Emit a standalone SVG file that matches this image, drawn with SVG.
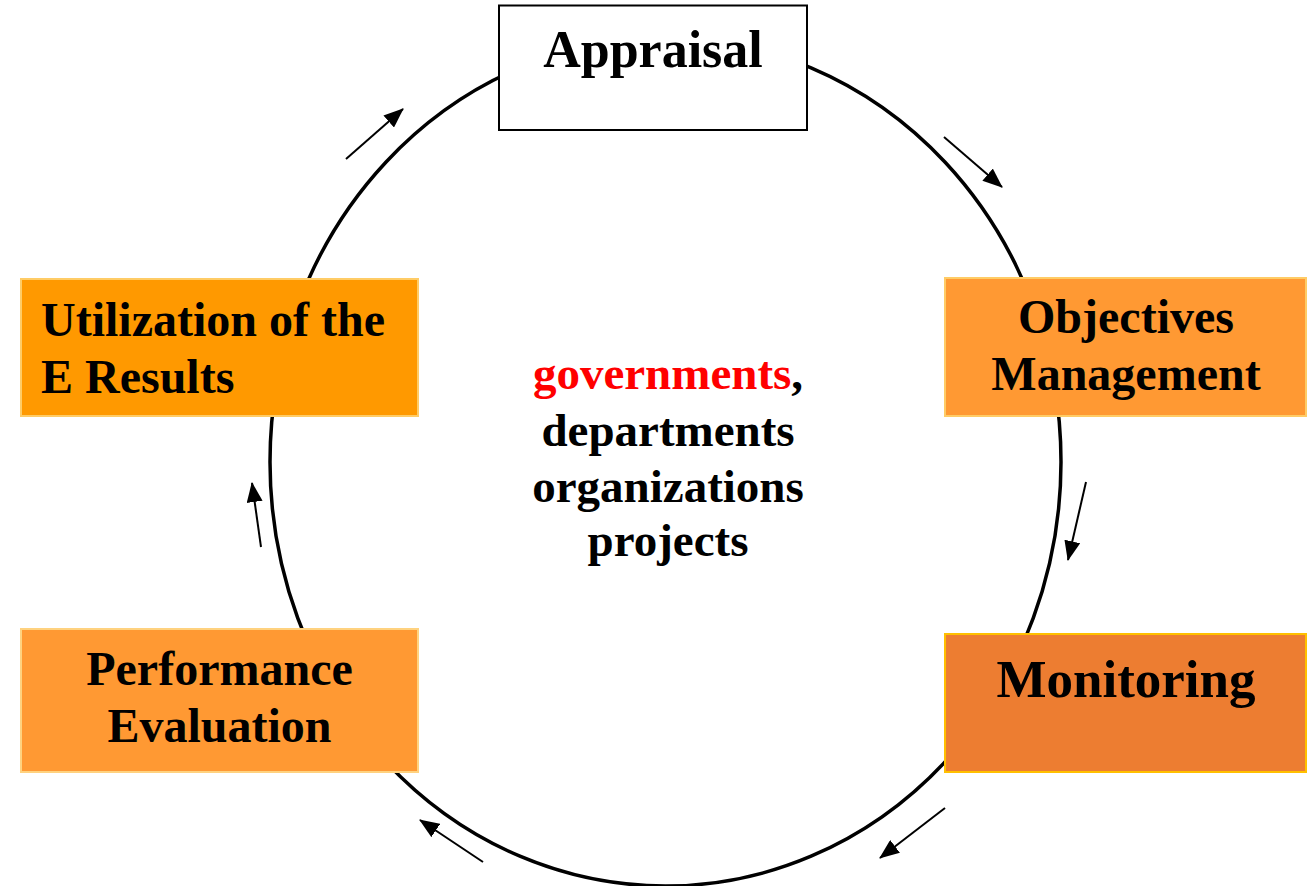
<svg xmlns="http://www.w3.org/2000/svg" width="1309" height="886" viewBox="0 0 1309 886">
  <style>
    .t { font-family: "Liberation Serif", "Times New Roman", serif; font-weight: bold; fill: #000; }
    .arrow { stroke: #000; stroke-width: 2; fill: none; marker-end: url(#head); }
    .box { stroke-width: 2; }
  </style>
  <defs>
    <marker id="head" markerUnits="userSpaceOnUse" markerWidth="20" markerHeight="16" viewBox="0 0 20 16" refX="19" refY="8" orient="auto">
      <path d="M0,0 L20,8 L0,16 Z" fill="#000"/>
    </marker>
  </defs>
  <rect width="1309" height="886" fill="#fff"/>
  <g id="connectors">
    <ellipse cx="665.5" cy="462" rx="395.5" ry="424" fill="none" stroke="#000" stroke-width="3.5"/>
    <line class="arrow" x1="346" y1="159" x2="403" y2="109"/>
    <line class="arrow" x1="944" y1="137" x2="1002" y2="187"/>
    <line class="arrow" x1="1086" y1="482" x2="1068" y2="560"/>
    <line class="arrow" x1="945" y1="808" x2="880" y2="858"/>
    <line class="arrow" x1="483" y1="862" x2="420" y2="820"/>
    <line class="arrow" x1="261" y1="547" x2="252" y2="483"/>
  </g>
  <g id="appraisal">
    <rect class="box" x="499" y="5.5" width="308" height="124.5" fill="#fff" stroke="#000"/>
    <text class="t" x="653" y="67" font-size="52" text-anchor="middle">Appraisal</text>
  </g>
  <g id="objectives">
    <rect class="box" x="945" y="278" width="361" height="138" fill="#FF9933" stroke="#FFCC66"/>
    <text class="t" x="1126" y="333" font-size="48" text-anchor="middle">Objectives</text>
    <text class="t" x="1126" y="390" font-size="48" text-anchor="middle">Management</text>
  </g>
  <g id="monitoring">
    <rect class="box" x="945" y="634" width="361" height="138" fill="#ED7D31" stroke="#FFC000"/>
    <text class="t" x="1126" y="697" font-size="53" text-anchor="middle">Monitoring</text>
  </g>
  <g id="utilization">
    <rect class="box" x="21" y="279" width="397" height="137" fill="#FF9900" stroke="#FFCC66"/>
    <text class="t" x="41" y="336" font-size="48">Utilization of the</text>
    <text class="t" x="41" y="393" font-size="48">E Results</text>
  </g>
  <g id="performance">
    <rect class="box" x="21" y="629" width="397" height="143" fill="#FF9933" stroke="#FFD27F"/>
    <text class="t" x="219.5" y="685" font-size="48" text-anchor="middle">Performance</text>
    <text class="t" x="219.5" y="742" font-size="48" text-anchor="middle">Evaluation</text>
  </g>
  <g id="center">
    <text class="t" x="668" y="389" font-size="47" text-anchor="middle"><tspan fill="#FF0000">governments</tspan>,</text>
    <text class="t" x="668" y="446" font-size="47" text-anchor="middle">departments</text>
    <text class="t" x="668" y="502" font-size="47" text-anchor="middle">organizations</text>
    <text class="t" x="668" y="556" font-size="47" text-anchor="middle">projects</text>
  </g>
</svg>
